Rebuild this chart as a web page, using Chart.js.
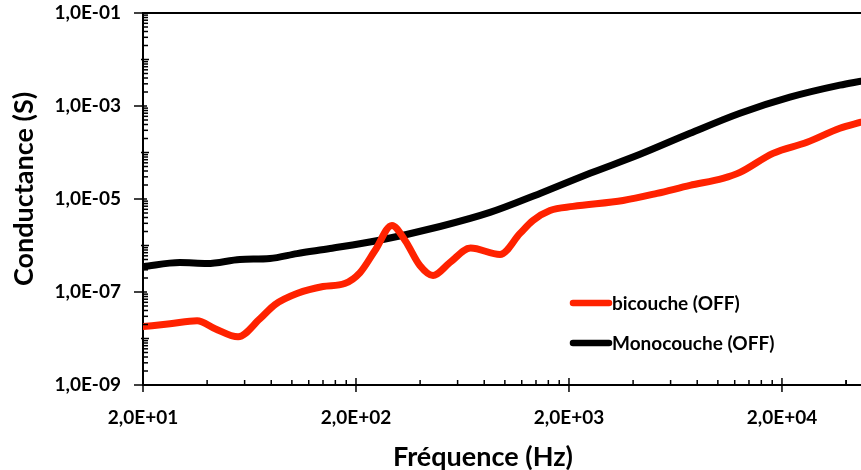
<!DOCTYPE html>
<html>
<head>
<meta charset="utf-8">
<script src="https://cdn.jsdelivr.net/npm/chart.js@4.4.1/dist/chart.umd.min.js"></script>
<style>
  html, body { margin: 0; padding: 0; background: #fff; }
  #wrap { width: 861px; height: 470px; }
</style>
</head>
<body>
<div id="wrap"><canvas id="chart"></canvas></div>
<script>
// frequencies (Hz) and conductance (S)
const freqBi = [20, 26.8, 35.9, 43.6, 55.9, 70.9, 83.3, 105.7, 140, 177, 209, 245.6, 295, 340, 399, 460, 552, 690, 949, 1178, 1355, 1629, 2090, 3590, 5180, 7400, 10570, 12700, 18150, 26200, 37400, 47000];
const condBi = [1.8e-8, 2.08e-8, 2.42e-8, 1.63e-8, 1.09e-8, 2.67e-8, 5.35e-8, 9.24e-8, 1.31e-7, 1.52e-7, 2.62e-7, 7.8e-7, 2.7e-6, 1.28e-6, 3.7e-7, 2.25e-7, 4.3e-7, 8.8e-7, 6.4e-7, 1.82e-6, 3.46e-6, 5.68e-6, 6.93e-6, 9.3e-6, 1.32e-5, 1.96e-5, 2.78e-5, 3.74e-5, 9.6e-5, 1.66e-4, 3.33e-4, 4.48e-4];

const freqMono = [20, 29.8, 40, 57, 78.9, 105.7, 151, 254, 496, 851, 1462, 2510, 4310, 7400, 12700, 21800, 37400, 47000];
const condMono = [3.5e-7, 4.3e-7, 4.1e-7, 5.0e-7, 5.25e-7, 6.7e-7, 8.6e-7, 1.28e-6, 2.56e-6, 5.14e-6, 1.32e-5, 3.56e-5, 9.15e-5, 2.59e-4, 7.0e-4, 1.55e-3, 2.81e-3, 3.42e-3];

const labelBi = "bicouche (OFF)";
const labelMono = "Monocouche (OFF)";
const xTitle = "Fréquence (Hz)";
const yTitle = "Conductance (S)";

const xMajor = [20, 200, 2000, 20000];
const yMajor = [1e-9, 1e-7, 1e-5, 1e-3, 1e-1];
const xMin = 20, xMax = 47000;
const yMin = 1e-9, yMax = 1e-1;

const FONT = "Lato, 'Open Sans', sans-serif";

function toPts(xs, ys){ return xs.map((x,i)=>({ x, y: ys[i] })); }

// excel-like "1,0E-01"
function sci(v){
  const exp = Math.floor(Math.log10(v) + 1e-9);
  const m = v / Math.pow(10, exp);
  const sign = exp < 0 ? "-" : "+";
  const a = Math.abs(exp);
  return m.toFixed(1).replace(".", ",") + "E" + sign + (a < 10 ? "0" + a : a);
}

function isMajor(list, v){ return list.some(m => Math.abs(m - v) / m < 1e-6); }

// minor ticks: x at 2k*10^n, y at k*10^n
function xTickValues(){
  const out = [];
  for(let d = 10; d <= 10000; d *= 10){
    for(let k = 2; k <= 18; k += 2){ const v = k * d; if(v >= xMin && v <= xMax) out.push(v); }
  }
  out.push(40000);
  return out;
}
function yTickValues(){
  const out = [];
  for(let d = 1e-9; d < yMax * 1.01; d *= 10){
    for(let k = 1; k <= 9; k++){ const v = k * d; if(v <= yMax * 1.0001) out.push(v); }
  }
  return out;
}

// ticks + top border + titles + legend
const decor = {
  id: "decor",
  afterDraw(chart){
    const ctx = chart.ctx, a = chart.chartArea;
    const xs = chart.scales.x, ys = chart.scales.y;
    ctx.save();
    ctx.strokeStyle = "#000";
    ctx.lineWidth = 2;
    ctx.beginPath();
    ctx.moveTo(a.left, a.top); ctx.lineTo(a.right, a.top);
    ctx.stroke();

    ctx.lineWidth = 1.5;
    xs.ticks.forEach(t=>{
      const px = xs.getPixelForValue(t.value);
      ctx.beginPath();
      if(isMajor(xMajor, t.value)){ ctx.moveTo(px, a.bottom - 7); ctx.lineTo(px, a.bottom + 7); }
      else { ctx.moveTo(px, a.bottom - 5); ctx.lineTo(px, a.bottom); }
      ctx.stroke();
    });
    ys.ticks.forEach(t=>{
      const py = ys.getPixelForValue(t.value);
      ctx.beginPath();
      if(isMajor(yMajor, t.value)){ ctx.moveTo(a.left - 9, py); ctx.lineTo(a.left + 4, py); }
      else {
        const lg = Math.log10(t.value);
        const dec = Math.abs(lg - Math.round(lg)) < 1e-6;
        ctx.moveTo(a.left - (dec ? 2 : 0), py); ctx.lineTo(a.left + (dec ? 6 : 5), py);
      }
      ctx.stroke();
    });

    // axis titles (slightly off-centre, like the original)
    ctx.fillStyle = "#000";
    ctx.font = "bold 27px " + FONT;
    ctx.textAlign = "center";
    ctx.textBaseline = "middle";
    ctx.fillText(xTitle, 483, 457.5);
    ctx.save();
    ctx.translate(24.5, 189);
    ctx.rotate(-Math.PI / 2);
    ctx.fillText(yTitle, 0, 0);
    ctx.restore();

    // legend
    const items = chart.data.datasets;
    const lx = 570, ly = [303, 343];
    ctx.font = "bold 19px " + FONT;
    ctx.textAlign = "left";
    items.forEach((ds, i)=>{
      ctx.strokeStyle = ds.borderColor;
      ctx.lineWidth = 6.5;
      ctx.lineCap = "round";
      ctx.beginPath(); ctx.moveTo(lx + 3, ly[i]); ctx.lineTo(lx + 39, ly[i]); ctx.stroke();
      ctx.fillText(ds.label, lx + 42, ly[i] + 1);
    });
    ctx.restore();
  }
};

new Chart(document.getElementById("chart"), {
  type: "line",
  data: {
    datasets: [
      { label: labelBi, data: toPts(freqBi, condBi), borderColor: "#ff2200", borderWidth: 7,
        pointRadius: 0, cubicInterpolationMode: "monotone", borderCapStyle: "round" },
      { label: labelMono, data: toPts(freqMono, condMono), borderColor: "#000000", borderWidth: 7,
        pointRadius: 0, cubicInterpolationMode: "monotone", borderCapStyle: "round" }
    ]
  },
  options: {
    responsive: true,
    maintainAspectRatio: false,
    animation: false,
    layout: { padding: { top: 13, right: 0, left: 0, bottom: 0 } },
    plugins: { legend: { display: false }, tooltip: { enabled: false } },
    scales: {
      x: {
        type: "logarithmic", min: xMin, max: xMax,
        afterBuildTicks: s => { s.ticks = xTickValues().map(v=>({ value: v })); },
        afterFit: s => { s.height = 85; s.paddingLeft = 0; s.paddingRight = 0; },
        grid: { display: false },
        border: { display: true, color: "#000", width: 2 },
        ticks: {
          autoSkip: false, maxRotation: 0, padding: 13, color: "#000",
          font: { family: FONT, size: 19, weight: "bold" },
          callback: v => isMajor(xMajor, v) ? sci(v) : ""
        },
        title: { display: false }
      },
      y: {
        type: "logarithmic", min: yMin, max: yMax,
        afterBuildTicks: s => { s.ticks = yTickValues().map(v=>({ value: v })); },
        afterFit: s => { s.width = 143; s.paddingTop = 0; s.paddingBottom = 0; },
        grid: { display: false },
        border: { display: true, color: "#000", width: 2 },
        ticks: {
          autoSkip: false, padding: 14, color: "#000",
          font: { family: FONT, size: 19, weight: "bold" },
          callback: v => isMajor(yMajor, v) ? sci(v) : ""
        },
        title: { display: false }
      }
    }
  },
  plugins: [decor]
});
</script>
</body>
</html>
